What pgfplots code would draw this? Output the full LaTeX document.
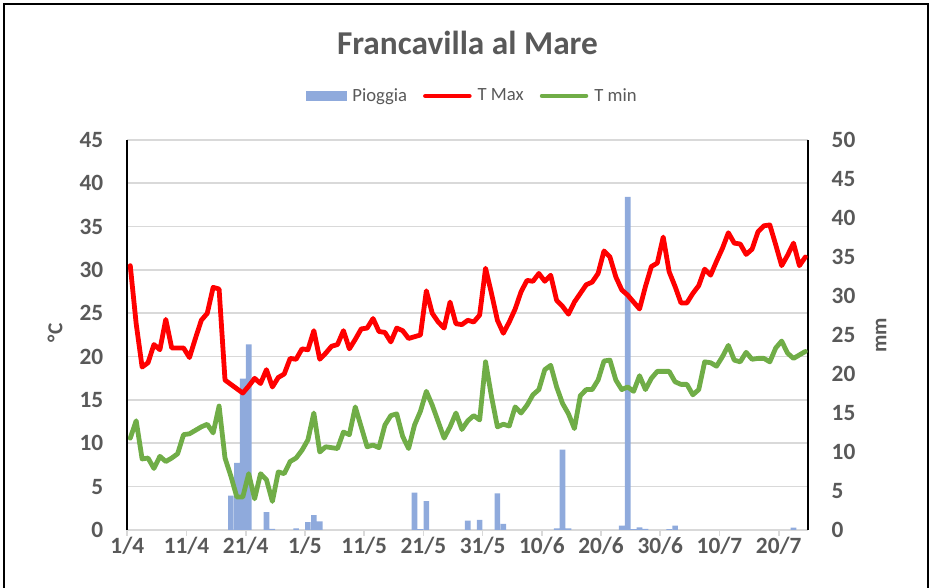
\documentclass[border=0pt]{standalone}
\usepackage{fontspec}
\setmainfont{Carlito}
\usepackage{pgfplots}
\pgfplotsset{compat=1.18}
\usepackage{pgfplotstable}

\definecolor{txt}{HTML}{595959}
\definecolor{gridc}{HTML}{D9D9D9}
\definecolor{rainc}{HTML}{8FAADC}
\definecolor{tmaxc}{HTML}{FF0000}
\definecolor{tminc}{HTML}{70AD47}

\pgfplotstableread{
d tmax tmin
0 30.5 10.6
1 23.8 12.6
2 18.8 8.2
3 19.3 8.3
4 21.4 7.1
5 20.8 8.5
6 24.3 7.9
7 21.0 8.3
8 21.0 8.8
9 21.0 11.0
10 19.9 11.1
11 22.1 11.5
12 24.2 11.9
13 25.0 12.2
14 28.0 11.2
15 27.8 14.3
16 17.3 8.3
17 16.8 6.2
18 16.3 3.8
19 15.8 3.8
20 16.6 6.5
21 17.5 3.6
22 16.9 6.5
23 18.5 5.8
24 16.5 3.3
25 17.6 6.7
26 18.0 6.5
27 19.8 7.9
28 19.7 8.3
29 20.9 9.2
30 20.8 10.4
31 23.0 13.5
32 19.7 9.0
33 20.4 9.6
34 21.2 9.5
35 21.4 9.4
36 23.0 11.3
37 20.9 11.0
38 22.0 14.2
39 23.2 11.9
40 23.3 9.6
41 24.4 9.8
42 22.9 9.5
43 22.8 12.1
44 21.7 13.2
45 23.3 13.4
46 23.0 10.8
47 22.1 9.4
48 22.3 12.1
49 22.5 13.7
50 27.6 16.0
51 25.0 14.4
52 24.0 12.5
53 23.3 10.6
54 26.3 11.9
55 23.8 13.5
56 23.7 11.6
57 24.2 12.6
58 24.0 13.2
59 24.8 12.7
60 30.2 19.4
61 27.3 15.4
62 24.2 11.9
63 22.7 12.2
64 24.0 12.0
65 25.5 14.2
66 27.5 13.5
67 28.8 14.4
68 28.7 15.6
69 29.6 16.2
70 28.7 18.5
71 29.4 19.0
72 26.5 16.5
73 25.8 14.6
74 24.9 13.4
75 26.3 11.7
76 27.3 15.5
77 28.3 16.2
78 28.6 16.2
79 29.6 17.3
80 32.2 19.5
81 31.5 19.6
82 29.2 17.3
83 27.7 16.2
84 27.1 16.5
85 26.3 16.0
86 25.5 17.8
87 28.1 16.2
88 30.4 17.5
89 30.8 18.3
90 33.8 18.3
91 29.8 18.3
92 28.1 17.1
93 26.2 16.8
94 26.2 16.8
95 27.3 15.6
96 28.2 16.2
97 30.1 19.4
98 29.4 19.3
99 31.0 18.9
100 32.5 20.0
101 34.3 21.3
102 33.1 19.6
103 33.0 19.4
104 31.8 20.5
105 32.4 19.7
106 34.4 19.8
107 35.1 19.8
108 35.2 19.4
109 32.9 21.0
110 30.5 21.8
111 31.7 20.4
112 33.1 19.8
113 30.5 20.2
114 31.5 20.6
}\temps

\pgfplotstableread{
d mm
17 4.4
18 8.6
19 19.4
20 23.8
23 2.3
24 0.15
28 0.2
30 1.0
31 1.9
32 1.1
48 4.8
49 0.1
50 3.7
57 1.2
59 1.3
62 4.7
63 0.8
72 0.2
73 10.3
74 0.2
83 0.55
84 42.7
85 0.1
86 0.35
87 0.15
91 0.1
92 0.55
112 0.3
}\rain

\pgfplotsset{
  base/.style={
    scale only axis, width=510.75pt, height=292.5pt,
    at={(95.475pt,43.5pt)}, anchor=south west,
    xmin=-0.5, xmax=114.5,
    /pgf/number format/assume math mode=true,
    tick label style={font=\bfseries\fontsize{17.5}{19}\selectfont, text=txt},
  }
}

\begin{document}
\begin{tikzpicture}
\path[use as bounding box] (0pt,0pt) rectangle (699pt,441pt);
\draw[black, line width=1.1pt] (3pt,-2pt) -- (3pt,438pt) -- (696pt,438pt) -- (696pt,-2pt);

% axis 1: grid, left axis, x axis
\begin{axis}[base,
  ymin=0, ymax=45, ytick={0,5,...,45},
  ymajorgrids, grid style={gridc, line width=1.25pt},
  axis lines=left,
  x axis line style={-, gridc, line width=1.25pt},
  y axis line style={-, black, line width=1.7pt},
  ytick style={draw=none},
  xtick={-0.5,9.5,...,109.5},
  xticklabels={1/4,11/4,21/4,1/5,11/5,21/5,31/5,10/6,20/6,30/6,10/7,20/7},
  xtick style={gridc, line width=1.25pt},
  tick align=outside, major tick length=4.5pt,
  yticklabel style={anchor=east, xshift=-10pt},
  xticklabel style={yshift=3pt},
]
\addplot[draw=none, forget plot] coordinates {(0,0)};
\end{axis}

% axis 2: rain
\begin{axis}[base,
  ymin=0, ymax=50, ytick={0,5,...,50},
  axis x line=none,
  axis y line*=right,
  y axis line style={-, black, line width=1.7pt},
  ytick style={draw=none},
  yticklabel style={anchor=west, xshift=14pt},
]
\addplot[ybar, bar width=0.95, fill=rainc, draw=none] table[x=d, y=mm] {\rain};
\end{axis}

% axis 3: temperatures
\begin{axis}[base,
  ymin=0, ymax=45, hide axis,
  legend columns=3,
  legend style={draw=none, fill=none, at={(0.507,1.113)}, anchor=center,
    font=\fontsize{14}{16}\selectfont, text=txt,
    /tikz/every odd column/.append style={column sep=2.5pt},
    /tikz/every even column/.append style={column sep=10pt}},
]
\addlegendimage{legend image code/.code={\fill[rainc] (0pt,-3.4pt) rectangle (30pt,3.4pt);}}
\addlegendentry{Pioggia}
\addplot[tmaxc, line width=3.6pt, line join=round, line cap=round,
  legend image code/.code={\draw[tmaxc, line width=3.4pt] (0pt,0pt) -- (33pt,0pt);}]
  table[x=d, y=tmax] {\temps};
\addlegendentry{T Max}
\addplot[tminc, line width=3.6pt, line join=round, line cap=round,
  legend image code/.code={\draw[tminc, line width=3.4pt] (0pt,0pt) -- (33pt,0pt);}]
  table[x=d, y=tmin] {\temps};
\addlegendentry{T min}
\end{axis}

\node[font=\bfseries\fontsize{25}{28}\selectfont, text=txt] at (350.6pt,408.75pt) {Francavilla al Mare};
\node[font=\bfseries\fontsize{16}{18}\selectfont, text=txt, rotate=90] at (41.25pt,191.25pt) {°C};
\node[font=\bfseries\fontsize{16}{18}\selectfont, text=txt, rotate=90] at (660.75pt,189.75pt) {mm};
\end{tikzpicture}
\end{document}
